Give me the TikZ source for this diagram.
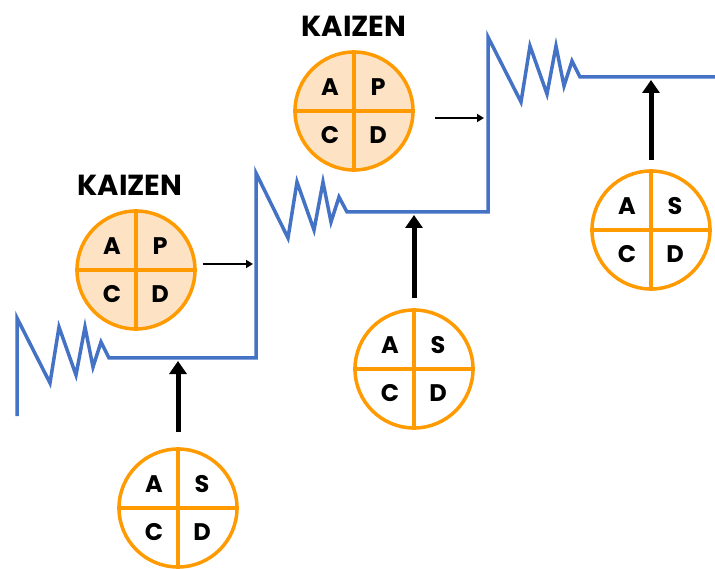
\documentclass[tikz,border=0pt]{standalone}
\usepackage{fontspec}
\setmainfont{Poppins}
\usetikzlibrary{arrows.meta}
\definecolor{lineblue}{HTML}{4472C4}
\definecolor{pdcaorange}{HTML}{FF9A00}
\definecolor{pdcafill}{HTML}{FDE3C4}
\tikzset{
 cyc/.style={circle, draw=pdcaorange, line width=3.5pt, minimum size=118pt, inner sep=0pt},
 divider/.style={draw=pdcaorange, line width=3.5pt},
 letter/.style={font=\bfseries\fontsize{24}{24}\selectfont, inner sep=0pt},
 title/.style={font=\bfseries\fontsize{29}{29}\selectfont, inner sep=0pt},
 stair/.style={draw=lineblue, line width=3.5pt, line join=miter},
 push/.style={-{Triangle[width=17pt,length=13pt]}, line width=5pt},
 nudge/.style={-{Triangle[width=8pt,length=7pt]}, line width=1.8pt},
}
\newcommand\pdcawheel[5]{%
 \node[cyc, fill=#4] (#1) at (#2,#3) {};
 \draw[divider] (#1.north) -- (#1.south) (#1.west) -- (#1.east);
 \node[letter] (#1-a) at ([shift={(-24pt,24pt)}]#1.center) {A};
 \node[letter] (#1-b) at ([shift={(24pt,24pt)}]#1.center) {#5};
 \node[letter] (#1-c) at ([shift={(-24pt,-24pt)}]#1.center) {C};
 \node[letter] (#1-d) at ([shift={(24pt,-24pt)}]#1.center) {D};
}
\begin{document}
\begin{tikzpicture}[x=1pt,y=-1pt]
\useasboundingbox (0,0) rectangle (715,569);
% staircase line
\draw[stair] (17,416) -- (17,318) -- (50,383) -- (59,327) -- (76,375) -- (85,327)
  -- (93,367) -- (101,342) -- (109,358) -- (256,358) -- (256,173)
  -- (288,238) -- (297,182) -- (314,230) -- (323,182) -- (331,222) -- (339,197)
  -- (347,212) -- (488,212) -- (488,37)
  -- (521,102) -- (530,46) -- (547,94) -- (556,46) -- (564,86) -- (572,61)
  -- (580,77) -- (715,77);
\coordinate (hit1) at (178,361);
\coordinate (hit2) at (414,215);
\coordinate (hit3) at (651,80);
\coordinate (kick1) at (253,264);
\coordinate (kick2) at (484,118);
% KAIZEN wheels
\pdcawheel{kz1}{136}{270}{pdcafill}{P}
\pdcawheel{kz2}{354}{111}{pdcafill}{P}
\node[title] (t1) at (130,185) {KAIZEN};
\node[title] (t2) at (354,26) {KAIZEN};
% standardization wheels
\pdcawheel{sd1}{178}{508}{white}{S}
\pdcawheel{sd2}{414}{369}{white}{S}
\pdcawheel{sd3}{651}{230}{white}{S}
% arrows
\draw[nudge] ([shift={(6pt,6pt)}]kz1.east) -- (kick1);
\draw[nudge] ([shift={(20pt,-7pt)}]kz2.east) -- (kick2);
\draw[push] ([yshift=15pt]sd1.north) -- (hit1);
\draw[push] ([yshift=10pt]sd2.north) -- (hit2);
\draw[push] ([yshift=9pt]sd3.north) -- (hit3);
\end{tikzpicture}
\end{document}
